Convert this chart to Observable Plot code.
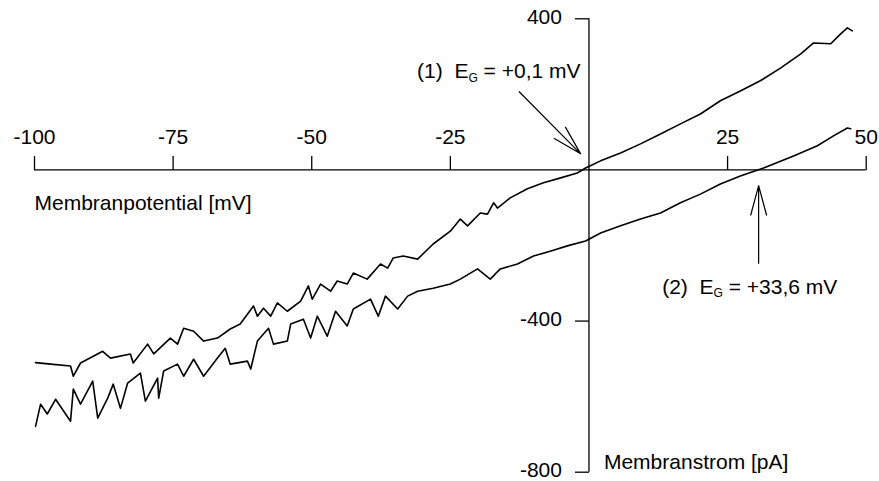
<!DOCTYPE html>
<html>
<head>
<meta charset="utf-8">
<script src="https://cdn.jsdelivr.net/npm/d3@7"></script>
<script src="https://cdn.jsdelivr.net/npm/@observablehq/plot@0.6"></script>
<style>
  html, body { margin: 0; padding: 0; background: #fff; }
</style>
</head>
<body>
<div id="chart"></div>
<script>
// ---- data ----
const xDomain = [-100, 50];
const yDomain = [-800, 400];
const xTicks = [-100, -75, -50, -25, 25, 50];
const yTicks = [400, -400, -800];

// trace (1): membrane potential [mV] / membrane current [pA]
const trace1mV = [-99.8,-97.1,-93.5,-93.0,-91.7,-87.7,-86.3,-82.7,-82.2,-79.6,-78.5,-75.5,-74.2,-73.1,-71.3,-69.5,-67.0,-64.7,-62.9,-60.5,-59.8,-58.7,-57.4,-56.2,-54.4,-52.0,-50.6,-49.9,-48.4,-46.6,-45.4,-43.6,-42.5,-40.0,-37.6,-36.3,-35.3,-33.5,-30.9,-28.1,-25.0,-23.2,-21.9,-19.6,-18.3,-17.2,-16.5,-14.2,-11.1,-8.2,-5.1,-2.1,-0.6,2.1,5.7,9.3,12.9,16.5,20.1,23.7,27.3,30.9,34.6,38.2,40.5,43.6,45.4,46.6,47.5];
const trace1pA = [-510,-514,-519,-546,-511,-480,-498,-487,-511,-461,-487,-445,-461,-419,-427,-453,-445,-421,-408,-360,-387,-366,-387,-352,-374,-347,-307,-342,-302,-321,-294,-302,-273,-289,-249,-260,-233,-228,-236,-196,-162,-130,-148,-114,-117,-87,-101,-74,-50,-34,-21,-8,5,24,45,69,95,122,148,183,209,236,270,307,336,334,360,376,368];

// trace (2)
const trace2mV = [-99.8,-98.9,-97.7,-96.2,-93.5,-93.0,-91.7,-89.5,-88.6,-86.8,-85.8,-84.5,-83.2,-80.9,-80.0,-77.8,-77.6,-76.7,-74.2,-73.1,-71.3,-69.5,-67.0,-65.6,-64.7,-61.6,-61.0,-59.8,-57.8,-56.9,-54.4,-53.8,-51.5,-50.2,-49.0,-47.2,-45.7,-43.6,-42.5,-39.4,-38.0,-36.7,-34.5,-32.7,-30.9,-28.1,-25.0,-23.2,-20.1,-17.8,-16.0,-12.9,-10.0,-7.0,-3.9,-0.6,2.1,5.7,9.3,12.9,16.5,20.1,23.7,27.3,31.5,36.9,41.2,44.1,46.6,47.2];
const trace2pA = [-678,-620,-646,-607,-665,-580,-620,-559,-657,-604,-567,-631,-564,-538,-612,-551,-604,-532,-514,-546,-501,-546,-498,-472,-514,-506,-527,-453,-419,-461,-453,-408,-395,-445,-387,-440,-374,-413,-368,-342,-387,-334,-368,-334,-321,-313,-302,-289,-262,-289,-262,-249,-228,-215,-201,-188,-167,-148,-130,-114,-87,-64,-37,-16,5,37,64,90,111,109];

// annotation texts and anchor points (data units)
const labelTexts = ["(1)\u00a0\u00a0E_G = +0,1 mV", "(2)\u00a0\u00a0E_G = +33,6 mV"];
const labelMV = [-31.0, 13.2];
const labelPA = [261, -310];
const arrowTipMV = [-1.5, 30.6];
const arrowTipPA = [42.6, -41.3];
const axisTitles = ["Membranpotential [mV]", "Membranstrom [pA]"];
const axisTitleMV = [-100, 2.7];
const axisTitlePA = [-88, -773];

// ---- build tables ----
const t1 = trace1mV.map((v, i) => ({mV: v, pA: trace1pA[i]}));
const t2 = trace2mV.map((v, i) => ({mV: v, pA: trace2pA[i]}));
const labels = labelTexts.map((t, i) => ({text: t, mV: labelMV[i], pA: labelPA[i]}));
const titles = axisTitles.map((t, i) => ({text: t, mV: axisTitleMV[i], pA: axisTitlePA[i]}));

const tickShape = {
  draw(context, l) { context.moveTo(0, 0); context.lineTo(0, -l); }
};
const arrowShape = {
  draw(context, l) {
    const w = 31, a = 15 * Math.PI / 180;
    context.moveTo(0, 0);
    context.lineTo(0, -l);
    context.moveTo(-w * Math.sin(a), -l + w * Math.cos(a));
    context.lineTo(0, -l);
    context.lineTo(w * Math.sin(a), -l + w * Math.cos(a));
  }
};

const FONT = "'Liberation Sans', Arial, Helvetica, sans-serif";
const black = "#000";

const chart = Plot.plot({
  width: 879,
  height: 481,
  marginLeft: 34,
  marginRight: 13.3,
  marginTop: 18.3,
  marginBottom: 9.3,
  x: {domain: xDomain, axis: null},
  y: {domain: yDomain, axis: null},
  style: {fontFamily: FONT, fontSize: "21px", background: "#fff", color: black},
  marks: [
    // axes through the origin
    Plot.ruleY([0], {x1: xDomain[0], x2: xDomain[1], stroke: black, strokeWidth: 1.3}),
    Plot.ruleX([0], {y1: yDomain[0], y2: yDomain[1], stroke: black, strokeWidth: 1.3}),
    Plot.vector(xTicks, {x: d => d, y: 0, length: 14, rotate: 0, anchor: "start", shape: tickShape, stroke: black, strokeWidth: 1.3, strokeLinecap: "butt"}),
    Plot.vector(yTicks, {x: 0, y: d => d, length: 14, rotate: -90, anchor: "start", shape: tickShape, stroke: black, strokeWidth: 1.3, strokeLinecap: "butt"}),
    Plot.text(xTicks, {x: d => d, y: 0, dy: -33, text: d => String(d), fontSize: 21, fill: black}),
    Plot.text(yTicks, {x: 0, y: d => d, dx: -27, dy: -1.5, textAnchor: "end", text: d => String(d), fontSize: 21, fill: black}),
    // traces
    Plot.line(t1, {x: "mV", y: "pA", stroke: black, strokeWidth: 1.6, strokeLinejoin: "round"}),
    Plot.line(t2, {x: "mV", y: "pA", stroke: black, strokeWidth: 1.6, strokeLinejoin: "round"}),
    // axis titles
    Plot.text(titles, {x: "mV", y: "pA", text: "text", textAnchor: "start", fontSize: 21, fill: black}),
    // annotations
    Plot.text(labels, {x: "mV", y: "pA", text: "text", textAnchor: "start", fontSize: 21, fill: black}),
    Plot.vector([0], {x: () => arrowTipMV[0], y: () => arrowTipPA[0], length: 87.7, rotate: 135.3, anchor: "end", shape: arrowShape, stroke: black, strokeWidth: 1.2, strokeLinecap: "butt"}),
    Plot.vector([1], {x: () => arrowTipMV[1], y: () => arrowTipPA[1], length: 78.3, rotate: 0, anchor: "end", shape: arrowShape, stroke: black, strokeWidth: 1.2, strokeLinecap: "butt"})
  ]
});

// subscript "G" in the E_G labels
chart.querySelectorAll("text").forEach(t => {
  const s = t.textContent;
  const k = s.indexOf("_G");
  if (k < 0) return;
  const ns = "http://www.w3.org/2000/svg";
  t.textContent = "";
  const a = document.createElementNS(ns, "tspan"); a.textContent = s.slice(0, k);
  const b = document.createElementNS(ns, "tspan"); b.textContent = "G";
  b.setAttribute("font-size", "12"); b.setAttribute("dy", "3.6");
  const c = document.createElementNS(ns, "tspan"); c.textContent = s.slice(k + 2);
  c.setAttribute("dy", "-3.6");
  t.append(a, b, c);
});

document.getElementById("chart").appendChild(chart);
</script>
</body>
</html>
